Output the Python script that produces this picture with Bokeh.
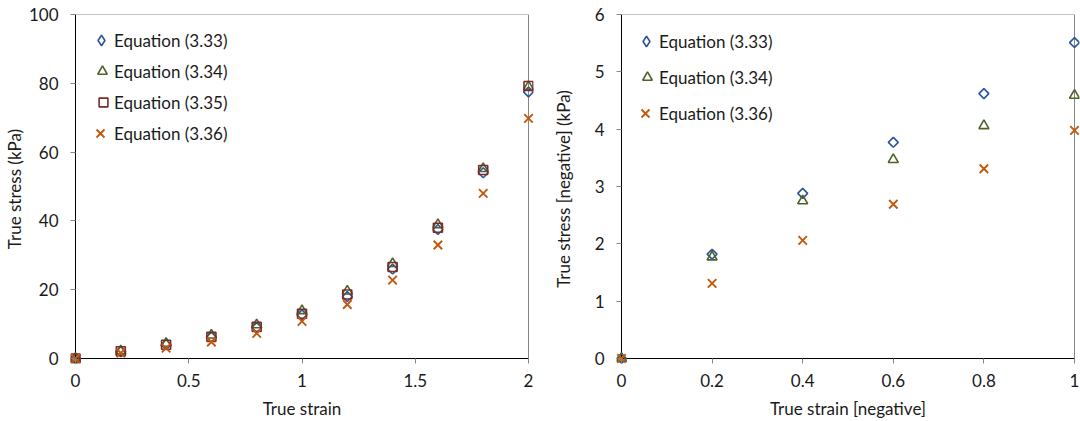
import math
from bokeh.plotting import figure
from bokeh.layouts import row
from bokeh.models import Range1d, FixedTicker, CustomJSTickFormatter, Legend, LegendItem
from bokeh.embed import file_html
from bokeh.resources import INLINE

# ---------------- data ----------------
strain_pos = [0, 0.2, 0.4, 0.6, 0.8, 1.0, 1.2, 1.4, 1.6, 1.8, 2.0]
eq333_pos = [0, 2.0, 4.0, 6.2, 9.0, 12.7, 18.0, 26.0, 37.5, 54.0, 77.5]
eq334_pos = [0, 2.2, 4.4, 6.8, 9.8, 13.9, 19.6, 27.6, 38.9, 55.2, 79.0]
eq335_pos = [0, 2.1, 4.0, 6.3, 9.2, 13.0, 18.6, 26.6, 38.0, 54.8, 79.2]
eq336_pos = [0, 1.6, 3.0, 4.8, 7.3, 10.8, 15.7, 22.8, 33.0, 48.0, 69.8]

strain_neg = [0, 0.2, 0.4, 0.6, 0.8, 1.0]
eq333_neg = [0, 1.82, 2.88, 3.77, 4.62, 5.51]
eq334_neg = [0, 1.77, 2.75, 3.47, 4.06, 4.59]
eq336_neg = [0, 1.31, 2.06, 2.69, 3.31, 3.98]

xticks_pos = [0, 0.5, 1, 1.5, 2]
yticks_pos = [0, 20, 40, 60, 80, 100]
xticks_neg = [0, 0.2, 0.4, 0.6, 0.8, 1]
yticks_neg = [0, 1, 2, 3, 4, 5, 6]

labels = ["Equation (3.33)", "Equation (3.34)", "Equation (3.35)", "Equation (3.36)"]

# ---------------- style ----------------
FONT = "Lato"
TXT = "#1a1a1a"
C_BLUE = "#2A5699"
C_GREEN = "#4F6228"
C_RED = "#7D2A28"
C_ORANGE = "#C0590E"
GRAY = "#868686"
PAD = 5  # px of padding around the data area so edge markers are not clipped
FRAME_H = 350  # frame height in px (data area 345 + pad)


def make_fig(xt, yt, plot_w_px, plot_h_px, left, right, xlab, ylab, ytitle_standoff):
    W, H = 540, 421
    top = 14
    bottom = 57
    xspan = xt[-1] - xt[0]
    yspan = yt[-1] - yt[0]
    xpad = xspan * PAD / plot_w_px
    ypad = yspan * PAD / plot_h_px
    p = figure(width=W, height=H, output_backend="svg", toolbar_location=None,
               x_range=Range1d(xt[0] - xpad, xt[-1] + xpad),
               y_range=Range1d(yt[0] - ypad, yt[-1]),
               min_border_left=left, min_border_right=right,
               min_border_top=top, min_border_bottom=bottom)
    p.outline_line_color = None
    p.xgrid.visible = False
    p.ygrid.visible = False
    p.background_fill_color = "white"
    p.border_fill_color = "white"
    fmt = CustomJSTickFormatter(code="return tick.toString();")
    for ax, ticks in ((p.xaxis[0], xt), (p.yaxis[0], yt)):
        ax.ticker = FixedTicker(ticks=ticks)
        ax.formatter = fmt
        ax.axis_line_color = None
        ax.major_tick_in = PAD
        ax.major_tick_out = 0
        ax.minor_tick_line_color = None
        ax.major_tick_line_color = GRAY
        ax.major_label_text_font = FONT
        ax.major_label_text_font_size = "17px"
        ax.major_label_text_color = TXT
        ax.axis_label_text_font = FONT
        ax.axis_label_text_font_size = "17px"
        ax.axis_label_text_font_style = "normal"
        ax.axis_label_text_color = TXT
    p.xaxis[0].axis_label = xlab
    p.yaxis[0].axis_label = ylab
    p.xaxis[0].major_label_standoff = 10
    p.yaxis[0].major_label_standoff = 12
    p.xaxis[0].axis_label_standoff = 8
    p.yaxis[0].axis_label_standoff = ytitle_standoff
    # frame: gray top/right, black axis lines
    p.segment(x0=[xt[0], xt[-1]], y0=[yt[-1], yt[0]], x1=[xt[-1], xt[-1]], y1=[yt[-1], yt[-1]],
              line_color=GRAY, line_width=1)
    p.segment(x0=[xt[0], xt[0]], y0=[yt[0], yt[0]], x1=[xt[-1], xt[0]], y1=[yt[0], yt[-1]],
              line_color="black", line_width=1)
    return p


def add_series(p, x, y, marker, color, size, angle=0.0, lw=1.6):
    return p.scatter(x, y, marker=marker, size=size, angle=angle, fill_color=None,
                     line_color=color, line_width=lw)


def add_legend_entry(p, label, renderer, g, text_x, cy_from_top):
    # g: swatch box size (legend marker size = 0.4*g); label starts at text_x (frame px)
    leg = Legend(items=[LegendItem(label=label, renderers=[renderer])],
                 location=(text_x - g, FRAME_H - cy_from_top - g / 2),
                 padding=0, margin=0, spacing=0,
                 glyph_width=g, glyph_height=g, label_height=g, label_standoff=0,
                 border_line_color=None, background_fill_alpha=0,
                 label_text_font=FONT, label_text_font_size="17px", label_text_color=TXT)
    p.add_layout(leg, "center")


# ---------------- left chart ----------------
p1 = make_fig(xticks_pos, yticks_pos, 453, 345, 70, 7, "True strain", "True stress (kPa)", 1)
r1 = add_series(p1, strain_pos, eq333_pos, "square", C_BLUE, 7, math.pi / 4)
r2 = add_series(p1, strain_pos, eq334_pos, "triangle", C_GREEN, 10)
r3 = add_series(p1, strain_pos, eq335_pos, "square", C_RED, 9)
r4 = add_series(p1, strain_pos, eq336_pos, "x", C_ORANGE, 12, lw=1.9)
# legend swatch for the diamond (zero size in the plot itself)
d1 = add_series(p1, strain_pos, eq333_pos, "diamond", C_BLUE, 0)
for i, (lab, rend, g) in enumerate(zip(labels, [d1, r2, r3, r4], [26, 24, 22, 28])):
    add_legend_entry(p1, lab, rend, g, 44, 27 + 31 * i)

# ---------------- right chart ----------------
p2 = make_fig(xticks_neg, yticks_neg, 453, 345, 76, 1, "True strain [negative]",
              "True stress [negative] (kPa)", 18)
s1 = add_series(p2, strain_neg, eq333_neg, "square", C_BLUE, 7, math.pi / 4)
s2 = add_series(p2, strain_neg, eq334_neg, "triangle", C_GREEN, 10)
s3 = add_series(p2, strain_neg, eq336_neg, "x", C_ORANGE, 12, lw=1.9)
d2 = add_series(p2, strain_neg, eq333_neg, "diamond", C_BLUE, 0)
labels2 = [labels[0], labels[1], labels[3]]
for i, (lab, rend, g) in enumerate(zip(labels2, [d2, s2, s3], [26, 24, 28])):
    add_legend_entry(p2, lab, rend, g, 43, 28 + 36 * i)

layout = row(p1, p2)
open("out.html", "w").write(file_html(layout, INLINE))
